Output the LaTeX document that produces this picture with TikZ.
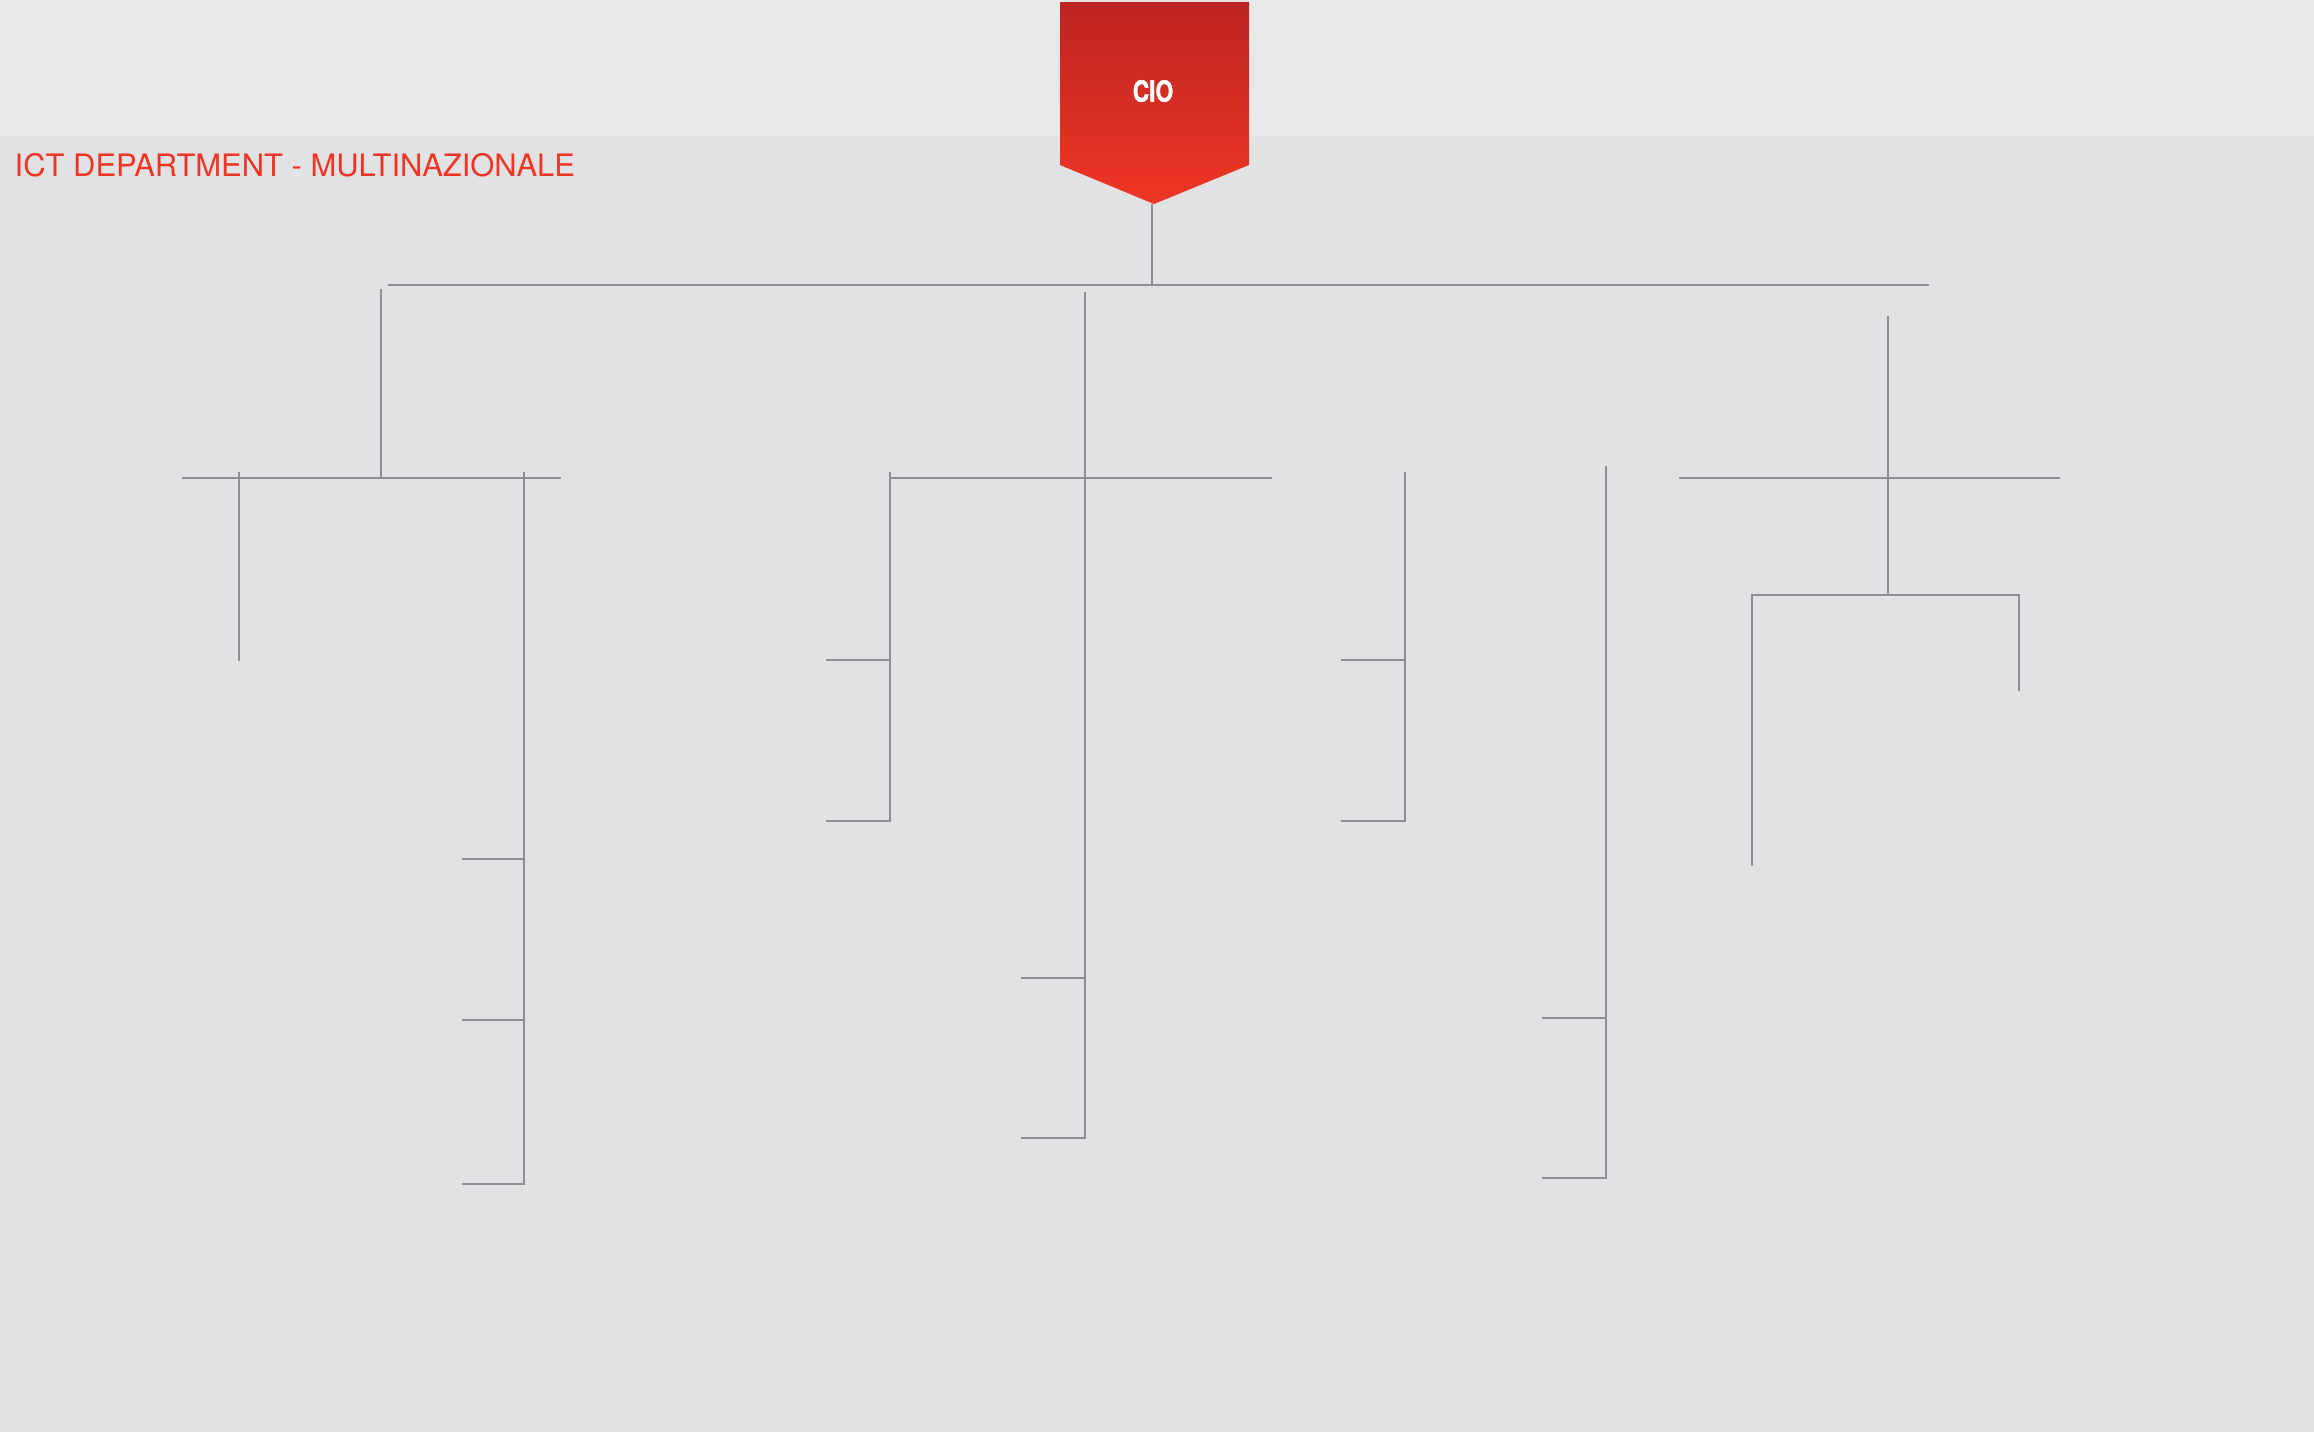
\documentclass[tikz,border=0pt]{standalone}
\usepackage{fontspec}
\setmainfont{TeX Gyre Heros}
\newfontfamily\ciofont[FakeBold=1.6]{TeX Gyre Heros}
\usetikzlibrary{calc}
\definecolor{bandgrey}{HTML}{E7E8E9}
\definecolor{pagegrey}{HTML}{E1E2E4}
\definecolor{wiregrey}{HTML}{8E8F92}
\definecolor{ciotop}{HTML}{BD2522}
\definecolor{ciobot}{HTML}{EF3624}
\definecolor{titlered}{HTML}{EE3524}
\tikzset{wire/.style={draw=wiregrey, line width=0.6pt},
  lbl/.style={inner sep=0pt, font=\fontsize{8.8}{10}\selectfont}}

\begin{document}
\begin{tikzpicture}[x=0.01cm, y=-0.01cm]
  \fill[pagegrey] (0,0) rectangle (2314,1432);
  \fill[bandgrey] (0,0) rectangle (2314,136);
  \useasboundingbox (0,0) rectangle (2314,1432);
  \shade[top color=ciotop, bottom color=ciobot] (1060,2) -- (1249,2) -- (1249,165) -- (1154,204) -- (1060,165) -- cycle;
  \node[text=white, font=\ciofont\bfseries\fontsize{8.3}{10}\selectfont, inner sep=0pt] (cio) at (1153,91) {\scalebox{0.78}[1]{CIO}};
  \node[lbl, text=titlered, anchor=base west] (title) at (14,176) {ICT DEPARTMENT - MULTINAZIONALE};
  % top bus
  \coordinate (ciotip) at (1152,204);
  \coordinate (bus) at (1152,285);
  \coordinate (busL) at (388,285);
  \coordinate (busR) at (1929,285);
  \draw[wire] (ciotip) -- (bus);
  \draw[wire] (busL) -- (busR);
  % left group
  \coordinate (a) at (381,289);
  \coordinate (aL) at (182,478);
  \coordinate (aR) at (561,478);
  \draw[wire] (a) -- (a |- aL);
  \draw[wire] (aL) -- (aR);
  \coordinate (a1) at (239,472);
  \coordinate (a1end) at (239,661);
  \draw[wire] (a1) -- (a1end);
  \coordinate (a2) at (524,472);
  \foreach \y [count=\i] in {859,1020,1184}
    \coordinate (a2t\i) at (462,\y);
  \draw[wire] (a2) |- (a2t3);
  \foreach \i in {1,2}
    \draw[wire] (a2t\i) -- (a2t\i -| a2);
  % middle group
  \coordinate (b) at (1085,292);
  \coordinate (bL) at (890,478);
  \coordinate (bR) at (1272,478);
  \coordinate (bt1) at (1021,978);
  \coordinate (bt2) at (1021,1138);
  \draw[wire] (b) |- (bt2);
  \draw[wire] (bt1) -- (bt1 -| b);
  \draw[wire] (bL) -- (bR);
  \coordinate (b1) at (890,472);
  \coordinate (b1t1) at (826,660);
  \coordinate (b1t2) at (826,821);
  \draw[wire] (b1) |- (b1t2);
  \draw[wire] (b1t1) -- (b1t1 -| b1);
  \coordinate (c) at (1405,472);
  \coordinate (ct1) at (1341,660);
  \coordinate (ct2) at (1341,821);
  \draw[wire] (c) |- (ct2);
  \draw[wire] (ct1) -- (ct1 -| c);
  \coordinate (d) at (1606,466);
  \coordinate (dt1) at (1542,1018);
  \coordinate (dt2) at (1542,1178);
  \draw[wire] (d) |- (dt2);
  \draw[wire] (dt1) -- (dt1 -| d);
  % right group
  \coordinate (e) at (1888,316);
  \coordinate (ej) at (1888,595);
  \coordinate (eL) at (1679,478);
  \coordinate (eR) at (2060,478);
  \coordinate (e1) at (1752,866);
  \coordinate (e2) at (2019,691);
  \draw[wire] (e) -- (ej);
  \draw[wire] (eL) -- (eR);
  \draw[wire] (e1) |- (ej) -| (e2);
\end{tikzpicture}
\end{document}
